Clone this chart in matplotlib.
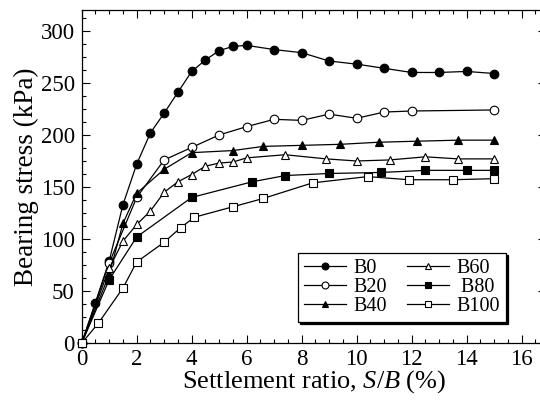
import numpy as np
import matplotlib
matplotlib.use('Agg')
import matplotlib.pyplot as plt
from matplotlib.ticker import MultipleLocator

plt.rcParams['font.family'] = ['Liberation Serif', 'DejaVu Serif']
plt.rcParams['mathtext.fontset'] = 'custom'
plt.rcParams['mathtext.rm'] = 'Liberation Serif'
plt.rcParams['mathtext.it'] = 'Liberation Serif:italic'

# Data
b0_x = [0, 0.5, 1, 1.5, 2, 2.5, 3, 3.5, 4, 4.5, 5, 5.5, 6, 7, 8, 9, 10, 11, 12, 13, 14, 15]
b0_y = [0, 39, 79, 133, 172, 202, 221, 241, 261, 272, 281, 285, 286, 282, 279, 271, 268, 264, 260, 260, 261, 259]

b20_x = [0, 1, 2, 3, 4, 5, 6, 7, 8, 9, 10, 11, 12, 15]
b20_y = [0, 77, 140, 176, 188, 200, 208, 215, 214, 220, 216, 222, 223, 224]

b40_x = [0, 1, 1.5, 2, 3, 4, 5.5, 6.6, 8, 9.4, 10.8, 12.2, 13.7, 15]
b40_y = [0, 66, 115, 144, 167, 183, 185, 189, 190, 191, 193, 194, 195, 195]

b60_x = [0, 1, 1.5, 2, 2.5, 3, 3.5, 4, 4.5, 5, 5.5, 6, 7.4, 8.9, 10, 11.2, 12.5, 13.7, 15]
b60_y = [0, 72, 98, 114, 127, 145, 155, 162, 170, 173, 174, 178, 181, 177, 175, 176, 179, 177, 177]

b80_x = [0, 1, 2, 4, 6.2, 7.4, 9, 10.9, 12.5, 14, 15]
b80_y = [0, 61, 102, 140, 155, 161, 163, 164, 166, 166, 166]

b100_x = [0, 0.6, 1.5, 2, 3, 3.6, 4.1, 5.5, 6.6, 8.4, 10.4, 11.9, 13.5, 15]
b100_y = [0, 19, 53, 78, 97, 111, 121, 131, 139, 154, 160, 157, 157, 158]

series = [
    ('B0', b0_x, b0_y, 'o', 'k'),
    ('B20', b20_x, b20_y, 'o', 'w'),
    ('B40', b40_x, b40_y, '^', 'k'),
    ('B60', b60_x, b60_y, '^', 'w'),
    (' B80', b80_x, b80_y, 's', 'k'),
    ('B100', b100_x, b100_y, 's', 'w'),
]

fig = plt.figure(figsize=(5.4, 4.0), dpi=100)
# the right spine sits just past the picture's edge, as in the reference
ax = fig.add_axes([0.1513, 0.142, 0.86, 0.833])

for name, x, y, m, fc in series:
    ax.plot(x, y, color='k', lw=0.9, marker=m, markerfacecolor=fc,
            markeredgecolor='k', markeredgewidth=0.8, markersize=6.2,
            label=name, clip_on=False, zorder=3)

ax.set_xlim(0, 16.89)
ax.set_ylim(0, 320)
ax.xaxis.set_major_locator(MultipleLocator(2))
ax.xaxis.set_minor_locator(MultipleLocator(0.5))
ax.yaxis.set_major_locator(MultipleLocator(50))
ax.yaxis.set_minor_locator(MultipleLocator(12.5))
ax.tick_params(which='both', direction='in', top=True, right=True, labelsize=16.5, width=0.8)
ax.tick_params(which='major', length=6, pad=5)
ax.tick_params(which='minor', length=3, right=False)
ax.tick_params(axis='x', which='major', pad=4)
for s in ax.spines.values():
    s.set_linewidth(0.9)

ax.set_xlabel('Settlement ratio, $S/B\\ (\\%)$', fontsize=19, labelpad=-1)
ax.set_ylabel('Bearing stress (kPa)', fontsize=19.5, labelpad=1)

leg = ax.legend(ncol=2, loc='upper left', bbox_to_anchor=(0.466, 0.271),
                fontsize=14.5, markerscale=0.8, handlelength=2.1,
                handletextpad=0.35, columnspacing=1.0, labelspacing=0.0,
                borderpad=0.3, borderaxespad=0, fancybox=False, framealpha=1,
                edgecolor='k', shadow={'color': 'k', 'alpha': 1, 'ox': 1.2, 'oy': -1.2})
leg.get_frame().set_linewidth(0.9)

fig.savefig('out.png', dpi=100)
